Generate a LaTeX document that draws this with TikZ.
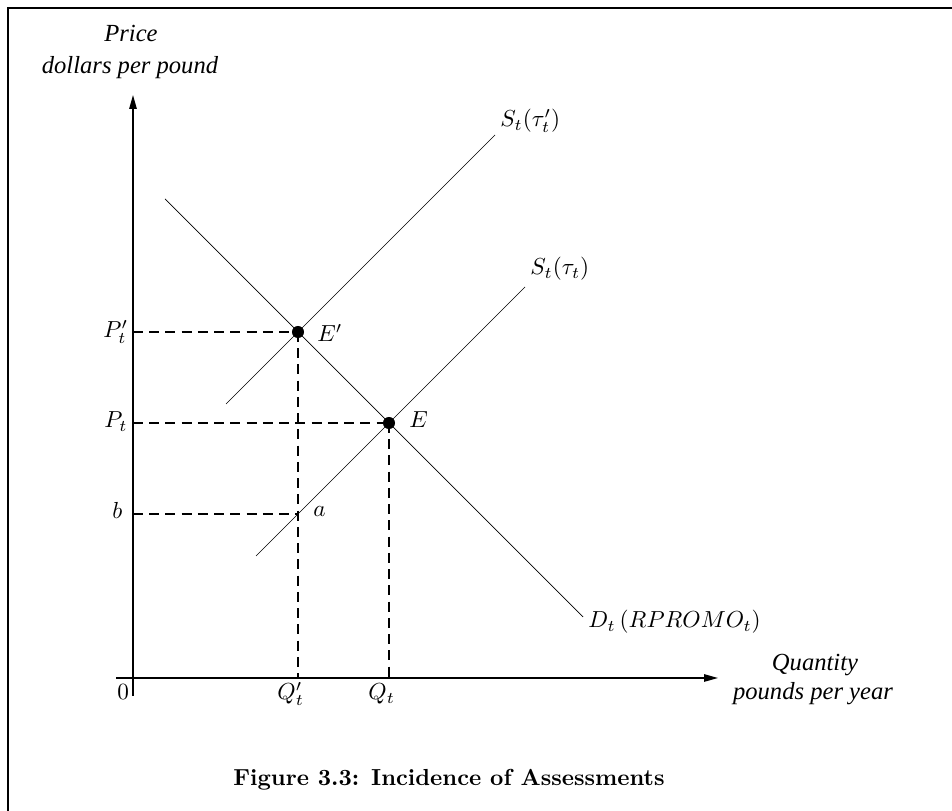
\documentclass[tikz,border=0pt]{standalone}
\usepackage{fontspec}
\newfontfamily\tms{Liberation Serif}
\usetikzlibrary{arrows.meta}
\begin{document}
\begin{tikzpicture}[x=0.431pt,y=-0.431pt,
  frame/.style={line width=0.65pt},
  axis/.style={line width=0.56pt,-{Triangle[length=6pt,width=3.2pt]}},
  curve/.style={line width=0.3pt},
  guide/.style={line width=0.56pt,dash pattern=on 4.3pt off 2.7pt},
  lbl/.style={inner sep=0pt,anchor=base west},
  ttl/.style={inner sep=0pt,anchor=base,font=\tms\itshape\fontsize{10.6}{13}\selectfont},
  dot/.style={circle,fill,inner sep=0pt,minimum size=5.2pt}]
\useasboundingbox (0,0) rectangle (952,811);
% frame
\coordinate (fb) at (8,811);
\coordinate (fc) at (8,8);
\coordinate (fr) at (952,8);
\draw[frame] (fb) -- (fc) -- (fr);
% axes
\coordinate (O) at (133,678);
\coordinate (ytop) at (133,95);
\coordinate (ybot) at (133,696);
\coordinate (xl) at (116,678);
\coordinate (xr) at (718,678);
\draw[axis] (ybot) -- (ytop);
\draw[axis] (xl) -- (xr);
% curves
\coordinate (d1) at (165,199);
\coordinate (d2) at (583,617);
\coordinate (sp1) at (226,404);
\coordinate (sp2) at (495,135);
\coordinate (s1) at (256,556);
\coordinate (s2) at (525,287);
\draw[curve] (d1) -- (d2);
\draw[curve] (sp1) -- (sp2);
\draw[curve] (s1) -- (s2);
% key points
\coordinate (Ep) at (298,332);
\coordinate (E) at (389,423);
\coordinate (a) at (298,514);
\coordinate (yPp) at (133,332);
\coordinate (yP) at (133,423);
\coordinate (yb) at (133,514);
\coordinate (xQp) at (298,678);
\coordinate (xQ) at (389,678);
\coordinate (yPpL) at (132.2,332);
\coordinate (OL) at (132.2,678);
% dashed guides
\draw[guide] (yPp) -- (Ep);
\draw[guide] (Ep) -- (xQp);
\draw[guide] (yP) -- (E);
\draw[guide] (E) -- (xQ);
\draw[guide] (yb) -- (a);
\draw[guide] (yPpL) -- (OL);
% dots
\node[dot] (dEp) at (Ep) {};
\node[dot] (dE) at (E) {};
% labels
\node[ttl] (price) at (131,42) {Price};
\node[ttl] (dpp) at (130,74) {dollars per pound};
\node[ttl] (qty) at (815,671) {Quantity};
\node[ttl] (ppy) at (813,700) {pounds per year};
\node[lbl] (lSp) at (500,127) {$S_t(\tau'_t)$};
\node[lbl] (lS) at (530,275) {$S_t(\tau_t)$};
\node[lbl] (lD) at (588,628) {$D_t\,(RPROMO_t)$};
\node[lbl] (lEp) at (317,342) {$E'$};
\node[lbl] (lE) at (409,428) {$E$};
\node[lbl] (la) at (313,517) {$a$};
\node[lbl] (lPp) at (103,338) {$P'_t$};
\node[lbl] (lP) at (104,428) {$P_t$};
\node[lbl] (lb) at (112,519) {$b$};
\node[lbl] (l0) at (117,700) {$0$};
\node[lbl] (lQp) at (277,700) {$Q'_t$};
\node[lbl] (lQ) at (368,700) {$Q_t$};
% caption
\node[inner sep=0pt,anchor=base] (cap) at (449,786) {\bfseries Figure 3.3: Incidence of Assessments};
\end{tikzpicture}
\end{document}
